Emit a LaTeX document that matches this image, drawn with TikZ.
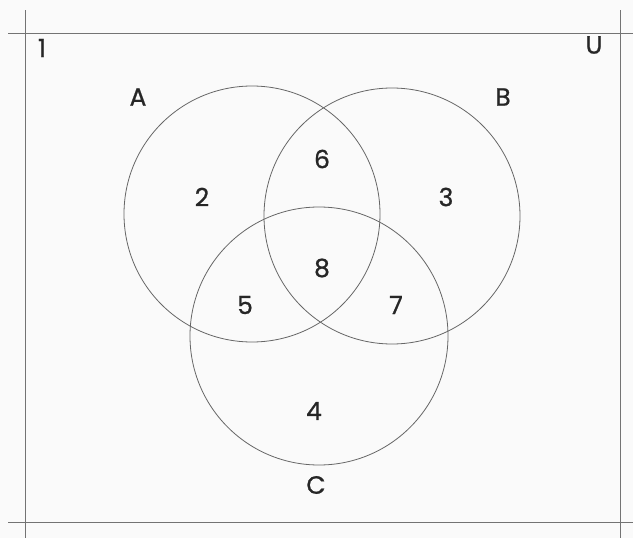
\documentclass[tikz,border=0pt]{standalone}
\usepackage{fontspec}
\setmainfont{Poppins}[FakeBold=0.8]
\begin{document}
\begin{tikzpicture}[x=1pt,y=-1pt,
  frameline/.style={draw=black!55, line width=0.7pt},
  setcircle/.style={circle, draw=black!60, line width=0.8pt, inner sep=0pt, minimum size=#1},
  lbl/.style={font=\fontsize{25}{25}\selectfont, text=black!85, inner sep=0pt}]
\fill[black!2] (0,0) rectangle (633,538);
\useasboundingbox (0,0) rectangle (633,538);
% universe frame
\coordinate (tl) at (8,33);   \coordinate (tr) at (633,33);
\coordinate (bl) at (8,522);  \coordinate (br) at (633,522);
\coordinate (lt) at (25,10);  \coordinate (lb) at (25,538);
\coordinate (rt) at (620,10); \coordinate (rb) at (620,538);
\draw[frameline] (tl) -- (tr);
\draw[frameline] (bl) -- (br);
\draw[frameline] (lt) -- (lb);
\draw[frameline] (rt) -- (rb);
% sets
\node[setcircle=256pt] (cA) at (252,214) {};
\node[setcircle=256pt] (cB) at (392,216) {};
\node[setcircle=258pt] (cC) at (319,336) {};
% labels
\node[lbl] (one) at (42,48) {1};
\node[lbl] (U) at (594,45) {U};
\node[lbl] (A) at (138,97) {A};
\node[lbl] (B) at (503,97) {B};
\node[lbl] (C) at (316,485) {C};
\node[lbl] (n6) at (322,159) {6};
\node[lbl] (n2) at (202,197) {2};
\node[lbl] (n3) at (446,197) {3};
\node[lbl] (n8) at (322,268) {8};
\node[lbl] (n5) at (245,305) {5};
\node[lbl] (n7) at (396,305) {7};
\node[lbl] (n4) at (314,411) {4};
\end{tikzpicture}
\end{document}
